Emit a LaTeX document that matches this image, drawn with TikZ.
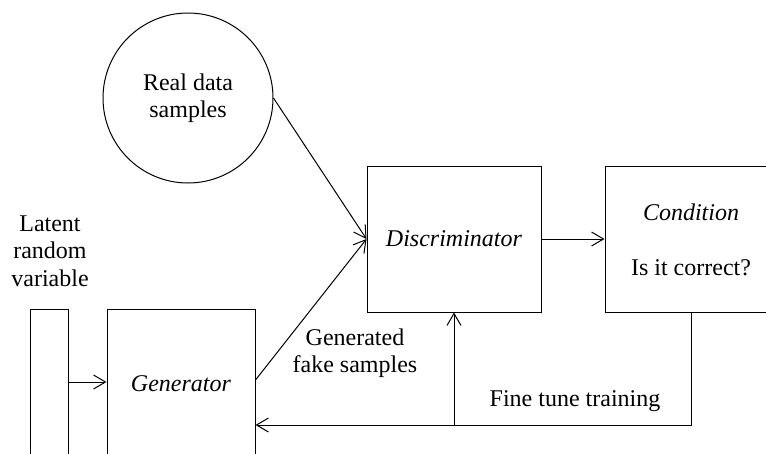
\documentclass[tikz,border=0pt]{standalone}
\usepackage{fontspec}
\setmainfont{LiberationSerif}[Extension=.ttf, UprightFont=*-Regular, ItalicFont=*-Italic, BoldFont=*-Bold, BoldItalicFont=*-BoldItalic]
\usetikzlibrary{arrows.meta}
\begin{document}
\begin{tikzpicture}[x=1pt,y=-1pt,
  font=\rmfamily\fontsize{24}{27.5}\selectfont,
  line width=1pt,
  arr/.style={-{Straight Barb[length=12pt,width=14pt,line width=1pt]}},
  box/.style={draw, rectangle, inner sep=0pt},
  txt/.style={align=center, inner sep=0pt}]
\useasboundingbox (0,0) rectangle (766,453);
\clip (0,0) rectangle (766,453);
\node[draw, circle, minimum size=170pt, inner sep=0pt, align=center] (real) at (188,98) {Real data\\samples};
\node[box, minimum width=174pt, minimum height=146pt] (disc) at (454,239) {\textit{Discriminator}};
\node[box, minimum width=172pt, minimum height=146pt] (cond) at (691,239) {};
\node[txt] (condtxt) at (691,240) {\textit{Condition}\\[27.5pt]Is it correct?};
\node[box, minimum width=148pt, minimum height=150pt] (gen) at (181,384) {\textit{Generator}};
\node[box, minimum width=38pt, minimum height=160pt] (bar) at (49,389) {};
\node[txt] (latent) at (50,251) {Latent\\random\\variable};
\node[txt] (gentxt) at (355,353) {Generated\\fake samples};
\node[txt] (fine) at (575,401) {Fine tune training};
\coordinate (corner) at (cond.south |- 0,425);
\coordinate (branch) at (disc.south |- 0,425);
\draw[arr] (bar.east |- 0,382) -- (gen.west |- 0,382);
\draw[arr] (real.east) -- (disc.west);
\draw[arr] (gen.east |- 0,380) -- (disc.west);
\draw[arr] (disc.east) -- (cond.west);
\draw[arr] (cond.south) -- (corner) -- (gen.east |- corner);
\draw[arr] (branch) -- (disc.south);
\end{tikzpicture}
\end{document}
